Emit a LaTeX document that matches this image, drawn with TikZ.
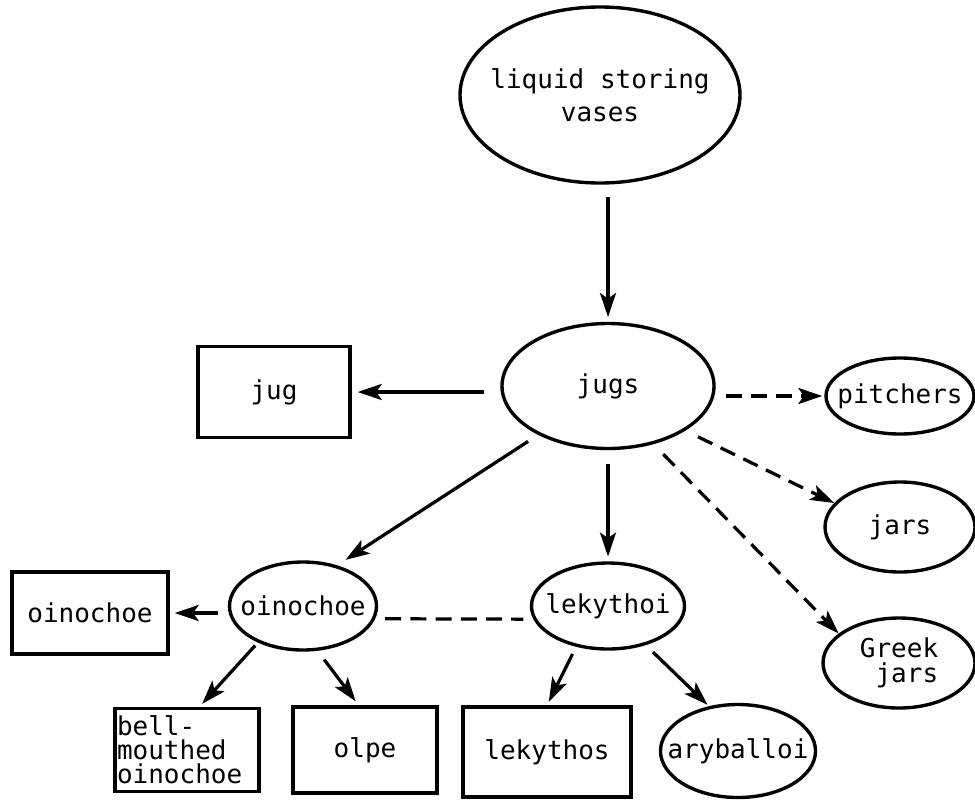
\documentclass[tikz,border=0pt]{standalone}
\usepackage{fontspec}
\usepackage{tikz}
\usetikzlibrary{arrows.meta,shapes.geometric}
\newfontfamily\vasefont{DejaVu Sans Mono}
\tikzset{
  font=\vasefont\fontsize{18.5}{22}\selectfont,
  kind/.style={ellipse,draw,line width=2.4pt,inner xsep=-2cm,inner ysep=-1cm,align=center},
  ware/.style={rectangle,draw,line width=2.4pt,inner sep=0pt,align=center},
  link/.style={-{Stealth[length=6mm,width=4mm,inset=1.4mm]},line width=2.3pt},
  guess/.style={link,dash pattern=on 4mm off 2.3mm},
  tie/.style={line width=2.3pt,dash pattern=on 4mm off 2.3mm},
  tight/.style={font=\vasefont\fontsize{18.5}{17.5}\selectfont}
}

\begin{document}
\begin{tikzpicture}
\useasboundingbox (0,0) rectangle (24.375,-19.975);

% classes (ellipses)
\node[kind,minimum width=7cm,minimum height=4.4cm,font=\vasefont\fontsize{18.5}{23.5}\selectfont] (vases) at (15.0,-2.375) {liquid storing\\vases};
\node[kind,minimum width=5.3cm,minimum height=3.125cm] (jugs) at (15.2,-9.65) {jugs};
\node[kind,minimum width=3.7cm,minimum height=1.9cm] (pitchers) at (22.5,-9.9) {pitchers};
\node[kind,minimum width=3.75cm,minimum height=2.25cm] (jars) at (22.5,-13.175) {jars};
\node[kind,tight,align=right,minimum width=3.8cm,minimum height=2.25cm] (greek) at (22.475,-16.575) {Greek\\jars};
\node[kind,minimum width=3.675cm,minimum height=2.2cm] (oino) at (7.575,-15.15) {oinochoe};
\node[kind,minimum width=3.825cm,minimum height=2.15cm] (lekythoi) at (15.2,-15.15) {lekythoi};
\node[kind,minimum width=3.875cm,minimum height=2.325cm] (aryballoi) at (18.45,-18.775) {aryballoi};

% single vases (boxes)
\node[ware,minimum width=3.8cm,minimum height=2.275cm] (jug) at (6.85,-9.8) {jug};
\node[ware,minimum width=3.9cm,minimum height=2.05cm] (oinobox) at (2.25,-15.325) {oinochoe};
\node[ware,align=left,text width=3.5cm,inner xsep=0.5mm,minimum height=2.075cm,font=\vasefont\fontsize{18.5}{17}\selectfont] (bell) at (4.675,-18.75) {bell-\\mouthed\\oinochoe};
\node[ware,minimum width=3.6cm,minimum height=2.15cm] (olpe) at (9.125,-18.75) {olpe};
\node[ware,minimum width=4.2cm,minimum height=2.25cm] (lekythos) at (13.675,-18.8) {lekythos};

\draw[link,shorten <=3mm,shorten >=1.2mm] (vases.south -| jugs.north) -- (jugs.north);
\draw[link,shorten <=4mm,shorten >=1.5mm] (jugs.west |- jug) -- (jug);
\draw[guess,shorten <=2.5mm,shorten >=0.5mm] (jugs.east |- pitchers) -- (pitchers);
\draw[guess,shorten <=3.5mm] (jugs.-30) -- (jars.160);
\draw[guess,shorten <=3.5mm] (jugs.-52) -- (greek.154);
\draw[link,shorten <=3mm,shorten >=2.5mm] (jugs.215) -- (oino.50);
\draw[link,shorten <=3.5mm,shorten >=1.2mm] (jugs.south) -- (lekythoi.north);

\draw[link,shorten <=2.5mm,shorten >=1.25mm] (oino.west |- oinobox) -- (oinobox);
\draw[tie,shorten <=2.5mm,shorten >=2.5mm] (oino.-10) -- (lekythoi.190);
\draw[link,shorten <=1mm,shorten >=1mm] (oino.219) -- (bell.74);
\draw[link,shorten <=2.75mm,shorten >=1.25mm] (oino.-72) -- (olpe.98);
\draw[link,shorten <=2mm,shorten >=1mm] (lekythoi.232) -- (lekythos.north);
\draw[link,shorten <=2.5mm,shorten >=0.5mm] (lekythoi.-46) -- (aryballoi.123);
\end{tikzpicture}
\end{document}
